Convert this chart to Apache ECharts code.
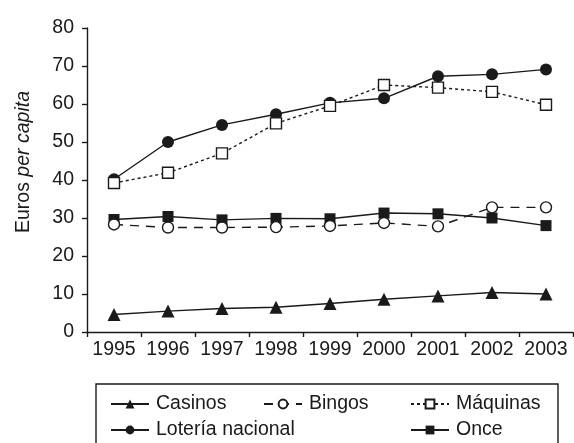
<!DOCTYPE html>
<html>
<head>
<meta charset="utf-8">
<script src="https://cdn.jsdelivr.net/npm/echarts@6/dist/echarts.min.js"></script>
<style>
  html, body { margin: 0; padding: 0; background: #fff; }
  #chart { width: 574px; height: 443px; }
</style>
</head>
<body>
<div id="chart"></div>
<script>
// data (euros per capita)
var years = ['1995', '1996', '1997', '1998', '1999', '2000', '2001', '2002', '2003'];
var casinos = [4.6, 5.5, 6.2, 6.5, 7.5, 8.6, 9.5, 10.4, 10.0];
var bingos = [28.3, 27.5, 27.5, 27.6, 27.9, 28.7, 27.8, 32.8, 32.8];
var maquinas = [39.2, 41.9, 47.0, 54.9, 59.5, 65.0, 64.3, 63.2, 59.8];
var loteria = [40.2, 50.0, 54.5, 57.3, 60.3, 61.5, 67.3, 67.8, 69.1];
var once = [29.6, 30.4, 29.5, 29.9, 29.8, 31.3, 31.1, 30.0, 28.0];

var ink = '#1a1a1a';
var font = 'Liberation Sans, Arial, sans-serif';
var fs = 19.5;

var chart = echarts.init(document.getElementById('chart'));

function lineSeries(name, data, symbol, size, fill, dash) {
    return {
        name: name,
        type: 'line',
        data: data,
        symbol: symbol,
        symbolSize: size,
        showAllSymbol: true,
        lineStyle: { color: ink, width: 1.4, type: dash || 'solid' },
        itemStyle: { color: fill, borderColor: ink, borderWidth: fill === '#fff' ? 1.4 : 0 },
        emphasis: { disabled: true },
        z: 2
    };
}

function legendAt(name, left, top) {
    return {
        data: [name],
        left: left,
        top: top,
        padding: 0,
        itemWidth: 38,
        itemHeight: 11,
        itemGap: 0,
        textStyle: { fontFamily: font, fontSize: fs, color: ink, padding: [0, 0, 0, 2] },
        selectedMode: false
    };
}

var option = {
    animation: false,
    grid: { left: 87, top: 28, right: 1, bottom: 111 },
    xAxis: {
        type: 'category',
        data: years,
        boundaryGap: true,
        axisLine: { lineStyle: { color: ink, width: 1.4 } },
        axisTick: { show: true, length: 5, lineStyle: { color: ink, width: 1.4 } },
        axisLabel: { fontFamily: font, fontSize: fs, color: ink, margin: 8, interval: 0 }
    },
    yAxis: {
        type: 'value',
        min: 0,
        max: 80,
        interval: 10,
        splitLine: { show: false },
        axisLine: { show: true, lineStyle: { color: ink, width: 1.4 } },
        axisTick: { show: true, length: 5, lineStyle: { color: ink, width: 1.4 } },
        axisLabel: { fontFamily: font, fontSize: fs, color: ink, margin: 13 }
    },
    legend: [
        legendAt('Casinos', 110, 394),
        legendAt('Bingos', 263, 394),
        legendAt('Máquinas', 410, 394),
        legendAt('Lotería nacional', 110, 420),
        legendAt('Once', 410, 420)
    ],
    graphic: [
        {
            type: 'rect',
            shape: { x: 96, y: 384, width: 462, height: 80 },
            style: { fill: 'none', stroke: ink, lineWidth: 1.4 },
            silent: true
        },
        {
            type: 'text',
            x: 14,
            y: 162,
            rotation: Math.PI / 2,
            style: {
                text: '{a|Euros }{b|per capita}',
                align: 'center',
                verticalAlign: 'top',
                rich: {
                    a: { fontFamily: font, fontSize: fs, fill: ink },
                    b: { fontFamily: font, fontSize: fs, fontStyle: 'italic', fill: ink }
                }
            },
            silent: true
        }
    ],
    series: [
        lineSeries('Casinos', casinos, 'triangle', 13, ink),
        lineSeries('Lotería nacional', loteria, 'circle', 12, ink),
        lineSeries('Máquinas', maquinas, 'rect', 11, '#fff', [3, 3]),
        lineSeries('Once', once, 'rect', 11, ink),
        lineSeries('Bingos', bingos, 'circle', 11, '#fff', [9, 7])
    ]
};

chart.setOption(option);
</script>
</body>
</html>
